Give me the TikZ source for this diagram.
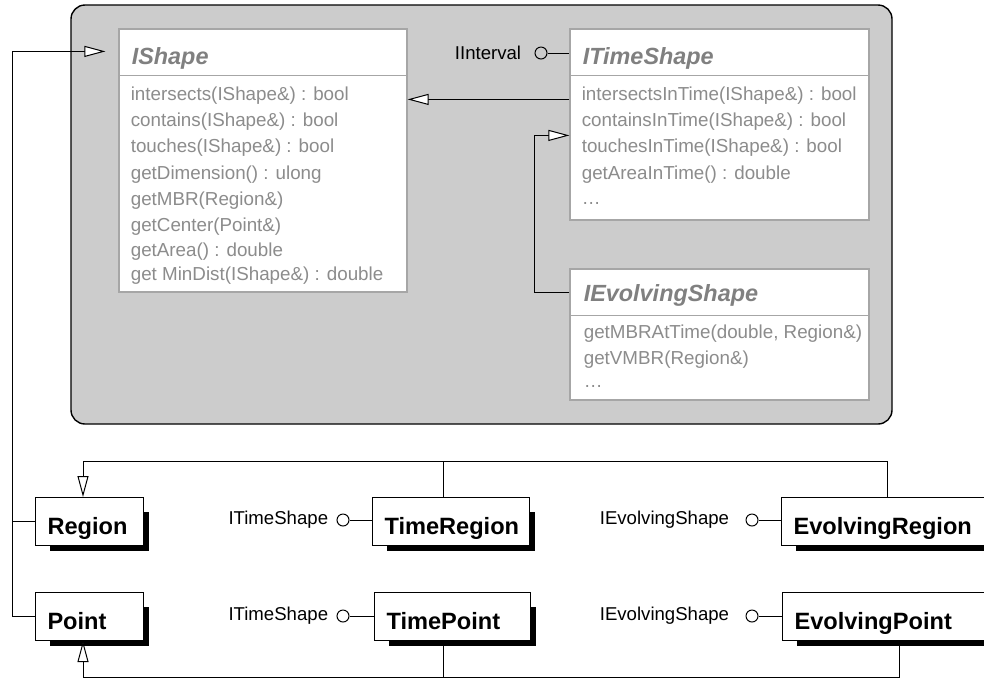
\documentclass[tikz,border=0pt]{standalone}
\usepackage{fontspec}
\setmainfont{Liberation Sans}
\usetikzlibrary{arrows.meta,calc,positioning,fit,backgrounds}
\definecolor{panelgray}{RGB}{204,204,204}
\definecolor{ifaceborder}{RGB}{166,166,166}
\definecolor{ifacetitle}{RGB}{128,128,128}
\definecolor{ifacetext}{RGB}{140,140,140}
\tikzset{
panel/.style={draw=black, fill=panelgray, rounded corners=7pt, line width=0.7pt},
ifacebox/.style={draw=ifaceborder, fill=white, line width=0.6pt, inner sep=0pt},
ifacesep/.style={draw=ifaceborder, line width=0.6pt},
ifacename/.style={font=\fontsize{11.7}{13}\selectfont\bfseries\itshape, text=ifacetitle, inner sep=0pt, anchor=base west},
method/.style={font=\fontsize{9.4}{11}\selectfont, text=ifacetext, inner sep=0pt, anchor=base west},
classbox/.style={draw=black, fill=white, line width=0.5pt, anchor=north west, align=left, inner xsep=6pt, inner ysep=0pt, minimum height=24pt, text height=12.9pt, text depth=0pt, font=\fontsize{11.8}{13}\selectfont\bfseries},
lollipop/.style={circle, draw=black, line width=0.5pt, minimum size=6pt, inner sep=0pt},
portlabel/.style={font=\fontsize{9.3}{11}\selectfont, inner sep=0pt},
genarrow/.style={-{Triangle[length=10.5pt, width=5.5pt, fill=white]}, line width=0.5pt},
link/.style={line width=0.5pt}
}
\begin{document}
\begin{tikzpicture}[x=0.5pt,y=-0.5pt]
\useasboundingbox (0,0) rectangle (984,677);
\clip (0,0) rectangle (984,677);

\draw[panel] (71,5) rectangle (892,424);

% interfaces inside the panel
\node[ifacebox, fit={(119,29) (407,292)}] (ishape) {};
\node[ifacebox, fit={(570,29) (869,220)}] (itimeshape) {};
\node[ifacebox, fit={(570,269) (869,400)}] (ievolvingshape) {};

\foreach \n in {ishape,itimeshape,ievolvingshape}
  \draw[ifacesep] ($(\n.north west)+(0,47)$) -- ($(\n.north east)+(0,47)$);

\node[ifacename] (ishapename) at ($(ishape.north west)+(13,36)$) {IShape};
\node[ifacename] (itimeshapename) at ($(itimeshape.north west)+(13,36)$) {ITimeShape};
\node[ifacename] (ievolvingshapename) at ($(ievolvingshape.north west)+(14,33)$) {IEvolvingShape};

\foreach \y/\m in {
72/{intersects(IShape\&) : bool}, 98/{contains(IShape\&) : bool},
124/{touches(IShape\&) : bool}, 151/{getDimension() : ulong},
177/{getMBR(Region\&)}, 203/{getCenter(Point\&)},
228/{getArea() : double}, 252/{get MinDist(IShape\&) : double}} {
  \node[method] at ($(ishape.north west)+(12,\y)$) {\m};
}

\foreach \y/\m in {
72/{intersectsInTime(IShape\&) : bool}, 98/{containsInTime(IShape\&) : bool},
124/{touchesInTime(IShape\&) : bool}, 151/{getAreaInTime() : double},
176/{\ldots}} {
  \node[method] at ($(itimeshape.north west)+(12,\y)$) {\m};
}

\foreach \y/\m in {
70/{getMBRAtTime(double, Region\&)}, 96/{getVMBR(Region\&)}, 119/{\ldots}} {
  \node[method] at ($(ievolvingshape.north west)+(14,\y)$) {\m};
}

\node[lollipop] (intervalport) at (541,53) {};
\node[portlabel, left=6.5pt of intervalport] (intervallabel) {IInterval};
\draw[link] (intervalport) -- (intervalport -| itimeshape.west);

\draw[genarrow] ($(itimeshape.north west)+(0,71)$) -- ($(ishape.north east)+(0,71)$);
\draw[genarrow] ($(ievolvingshape.north west)+(0,24)$) -- ++(-35,0) |- ($(itimeshape.north west)+(0,107)$);

% classes
\node[classbox, text width=42pt] (region) at (35,497) {Region};
\node[classbox, text width=66.5pt] (timeregion) at (372,497) {TimeRegion};
\node[classbox, text width=103pt] (evolvingregion) at (781,497) {EvolvingRegion};
\node[classbox, text width=42pt] (point) at (35,592) {Point};
\node[classbox, text width=66pt] (timepoint) at (374,592) {TimePoint};
\node[classbox, text width=103pt] (evolvingpoint) at (782,592) {EvolvingPoint};

\begin{scope}[on background layer]
\foreach \n in {region,timeregion,evolvingregion,point,timepoint,evolvingpoint}
  \fill ($(\n.north west)+(15,15)$) rectangle ($(\n.south east)+(5,5)$);
\end{scope}

\node[lollipop] (timeregionport) at (343,520) {};
\node[portlabel, left=4pt of timeregionport] (timeregionlabel) {ITimeShape};
\draw[link] (timeregionport) -- (timeregionport -| timeregion.west);
\node[lollipop] (evolvingregionport) at (752,520) {};
\node[portlabel, left=8pt of evolvingregionport] (evolvingregionlabel) {IEvolvingShape};
\draw[link] (evolvingregionport) -- (evolvingregionport -| evolvingregion.west);
\node[lollipop] (timepointport) at (343,616) {};
\node[portlabel, left=4pt of timepointport] (timepointlabel) {ITimeShape};
\draw[link] (timepointport) -- (timepointport -| timepoint.west);
\node[lollipop] (evolvingpointport) at (752,616) {};
\node[portlabel, left=8pt of evolvingpointport] (evolvingpointlabel) {IEvolvingShape};
\draw[link] (evolvingpointport) -- (evolvingpointport -| evolvingpoint.west);

% generalizations
\draw[genarrow, shorten >=6.5pt] (point.west) -- ++(-23,0) |- ($(ishape.north west)+(0,23)$);
\draw[link] (region.west) -- ++(-23,0);

\draw[genarrow] ($(evolvingregion.north west)+(106,0)$) |- ($(region.north west)+(48,-36)$) -- ($(region.north west)+(48,0)$);
\draw[link] ($(timeregion.north west)+(71,0)$) -- ++(0,-36);
\draw[genarrow] ($(evolvingpoint.south west)+(117,0)$) |- ($(point.south west)+(48,36)$) -- ($(point.south west)+(48,0)$);
\draw[link] ($(timepoint.south west)+(69,0)$) -- ++(0,36);

\end{tikzpicture}
\end{document}
